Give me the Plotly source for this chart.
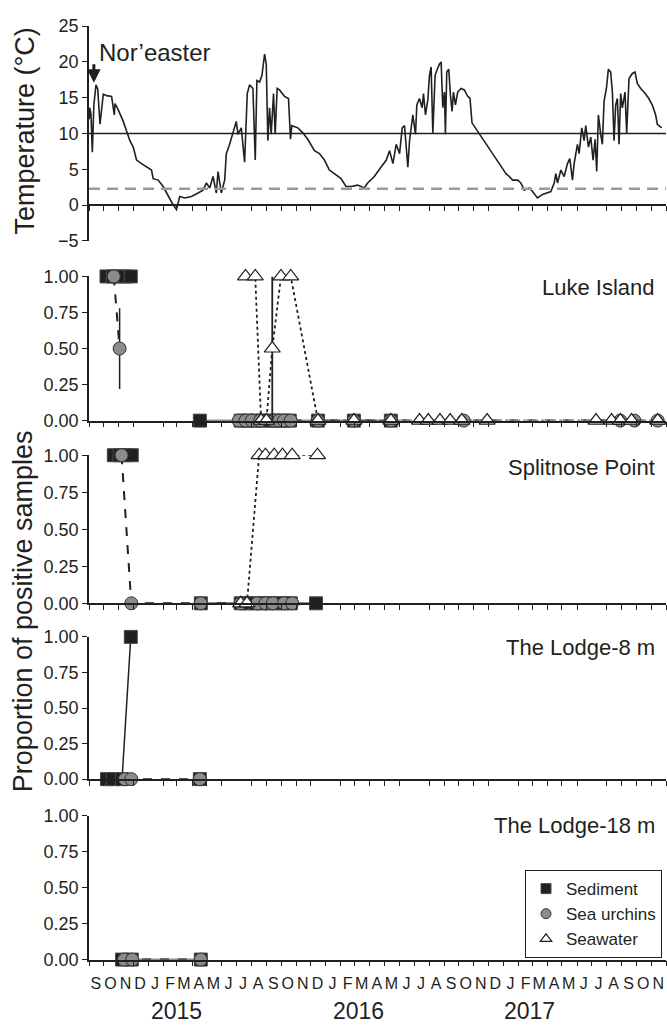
import pandas as pd
import plotly.graph_objects as go

# ---------------- DATA ----------------
START = "2014-09-01"
# water temperature, days since 1 Sep 2014 and degrees C
temp_day = [0.5, 1.4, 4.0, 6.8, 10.0, 14.4, 18.0, 22.6, 29.4, 36.3, 46.5, 52.0, 53.4, 60.2, 70.5, 77.3,
            84.1, 91.0, 97.8, 108.0, 118.3, 128.6, 132.0, 142.3, 152.5, 162.8, 171.0, 179.9,
            186.7, 197.0, 210.7, 224.4, 234.6, 241.5, 248.3, 255.1, 262.0, 265.4, 272.2, 279.1,
            282.5, 289.3, 296.2, 303.0, 306.4, 313.3, 320.1, 325.6, 330.4, 337.2, 342.0, 345.4,
            350.9, 355.7, 361.2, 364.6, 368.0, 371.4, 374.8, 379.6, 383.0, 387.1, 391.9, 402.2,
            410.4, 414.5, 417.2, 429.6, 439.8, 450.1, 463.8, 474.0, 484.3, 494.5, 504.8, 518.5,
            528.7, 539.0, 552.7, 566.4, 573.2, 586.9, 600.6,
            611.6, 618.3, 625.2, 632.0, 638.9, 644.3, 649.1, 655.9, 659.4, 666.2, 671.7, 674.4,
            679.9, 685.3, 688.1, 692.2, 697.0, 700.4, 703.8, 707.3, 712.0, 715.5, 720.9, 724.4,
            727.8, 731.2, 733.2, 736.0, 740.1, 743.5, 746.9, 749.7, 753.8, 758.5, 765.4, 772.2,
            779.1, 783.8, 787.9, 850.9, 857.7, 864.6, 871.4, 881.7, 888.5, 895.4, 905.6, 912.5,
            922.7, 933.0, 943.3, 950.1, 957.0, 960.4, 963.8, 970.7, 977.5, 984.3, 989.1, 994.6,
            998.0, 1004.8, 1008.3, 1013.7, 1018.5, 1021.9, 1027.4, 1032.2, 1037.0, 1041.1, 1044.5,
            1047.9, 1052.7, 1056.1, 1059.6, 1064.4, 1068.5, 1073.2, 1076.7, 1080.1, 1083.5, 1087.0,
            1090.4, 1093.8, 1097.2, 1102.7, 1106.1, 1110.9, 1117.8, 1123.2, 1128.0, 1134.9, 1141.7,
            1150.6, 1158.8, 1165.7, 1169.1, 1172.5, 1178.0]
temp_c = [12.0, 13.6, 12.8, 7.4, 14.0, 16.8, 16.2, 11.3, 15.5, 15.3, 15.2, 12.6, 14.2, 13.3, 11.7, 10.3,
          9.0, 8.1, 6.3, 5.8, 5.3, 4.9, 3.7, 3.5, 2.6, 1.2, 0.3, -0.6,
          1.2, 1.0, 1.2, 1.7, 2.1, 3.1, 2.4, 4.0, 1.7, 4.7, 1.7, 3.5,
          7.2, 8.5, 10.1, 11.7, 9.9, 10.8, 6.0, 15.6, 16.8, 16.3, 6.3, 17.4,
          17.2, 18.1, 21.1, 19.7, 9.0, 13.6, 9.9, 15.6, 9.9, 16.3, 16.1, 15.2,
          14.9, 9.2, 11.1, 10.8, 10.1, 9.2, 7.6, 7.2, 6.3, 4.9, 4.4, 3.7,
          2.6, 2.6, 2.8, 2.4, 3.1, 4.0, 5.3,
          6.3, 7.6, 5.8, 8.5, 7.2, 10.8, 11.1, 5.3, 9.0, 12.6, 9.9, 14.0,
          14.9, 13.6, 15.6, 12.6, 14.7, 18.1, 19.3, 10.1, 18.1, 18.8, 19.7, 20.0,
          13.6, 15.8, 9.9, 18.6, 19.0, 15.4, 13.1, 15.8, 14.0, 15.8, 16.3, 16.1,
          15.2, 14.9, 11.5, 5.1, 4.4, 4.0, 3.5, 3.5, 3.1, 2.1, 2.4, 1.9,
          1.0, 1.5, 1.7, 1.9, 3.1, 4.4, 3.1, 4.9, 4.0, 5.8, 6.5, 3.5,
          5.8, 8.5, 7.2, 10.8, 9.0, 11.1, 8.1, 9.5, 6.3, 9.2, 4.7,
          12.6, 9.9, 8.5, 14.5, 16.3, 19.0, 18.6, 15.8, 9.0, 14.0, 14.9,
          8.5, 15.6, 13.6, 15.8, 10.1, 17.7, 18.4, 18.6, 17.0, 16.3, 15.8,
          15.0, 14.0, 12.6, 11.3, 11.1, 10.8]
threshold_solid = 10.0
threshold_dashed = 2.3
noreaster_date = "2014-09-11"
noreaster_temp = 17.1

# Luke Island
luke_sed_dates = ["2014-10-07", "2014-10-20", "2014-11-01", "2014-11-14", "2014-11-26", None,
                  "2015-04-17", "2015-07-10", "2015-07-24", "2015-08-09", "2015-08-23", "2015-09-07",
                  "2015-09-21", "2015-10-05", "2015-10-19", "2015-12-16", "2016-02-28", "2016-05-14"]
luke_sed_vals = [1, 1, 1, 1, 1, None, 0, 0, 0, 0, 0, 0, 0, 0, 0, 0, 0, 0]
luke_urc_dates = ["2014-10-22", "2014-11-03", None, "2015-07-06", "2015-07-20", "2015-08-02",
                  "2015-08-19", "2015-09-17", "2015-09-27", "2015-10-07", "2015-10-21", "2015-12-16",
                  "2016-02-28", "2016-05-14", "2016-10-11", "2017-08-29", "2017-09-27", "2017-11-14"]
luke_urc_vals = [1, 0.5, None, 0, 0, 0, 0, 0, 0, 0, 0, 0, 0, 0, 0, 0, 0, 0]
luke_urc_err = [0, 0.28, 0, 0, 0, 0, 0, 0, 0, 0, 0, 0, 0, 0, 0, 0, 0, 0]
luke_sw_dates = ["2015-07-20", "2015-08-09", "2015-08-21", "2015-09-01", "2015-09-13", "2015-10-01",
                 "2015-10-21", "2015-12-16", "2016-02-28", "2016-05-14", "2016-07-12", "2016-07-30",
                 "2016-08-23", "2016-09-13", "2016-10-07", "2016-11-28", "2017-07-10", "2017-08-11",
                 "2017-08-29", "2017-09-21", "2017-11-14"]
luke_sw_vals = [1, 1, 0, 0, 0.5, 1, 1, 0, 0, 0, 0, 0, 0, 0, 0, 0, 0, 0, 0, 0, 0]
luke_sw_err = [0, 0, 0, 0, 0.5, 0, 0, 0, 0, 0, 0, 0, 0, 0, 0, 0, 0, 0, 0, 0, 0]

# Splitnose Point
split_sed_dates = ["2014-10-22", "2014-11-03", "2014-11-15", "2014-11-28", None, "2015-04-19",
                   "2015-07-10", "2015-07-24", "2015-08-09", "2015-08-23", "2015-09-07", "2015-09-21",
                   "2015-10-05", "2015-10-21", "2015-12-12"]
split_sed_vals = [1, 1, 1, 1, None, 0, 0, 0, 0, 0, 0, 0, 0, 0, 0]
split_urc_dates = ["2014-11-07", "2014-11-27", "2015-04-19", "2015-07-10", "2015-08-13", "2015-08-30",
                   "2015-09-14", "2015-10-07", "2015-10-24"]
split_urc_vals = [1, 0, 0, 0, 0, 0, 0, 0, 0]
split_sw_dates = ["2015-07-10", "2015-07-23", "2015-08-17", "2015-08-30", "2015-09-17", "2015-10-04",
                  "2015-10-24", "2015-12-15"]
split_sw_vals = [0, 0, 1, 1, 1, 1, 1, 1]

# The Lodge-8 m
lodge8_sed_dates = ["2014-10-08", "2014-10-20", "2014-11-08", "2014-11-26", None, "2015-04-17"]
lodge8_sed_vals = [0, 0, 0, 1, None, 0]
lodge8_urc_dates = ["2014-11-14", "2014-11-27", "2015-04-17"]
lodge8_urc_vals = [0, 0, 0]

# The Lodge-18 m
lodge18_sed_dates = ["2014-11-08", "2014-11-28", "2015-04-19"]
lodge18_sed_vals = [0, 0, 0]
lodge18_urc_dates = ["2014-11-12", "2014-11-29", "2015-04-19"]
lodge18_urc_vals = [0, 0, 0]

panel_names = ["Luke Island", "Splitnose Point", "The Lodge-8 m", "The Lodge-18 m"]
month_letters = ["S", "O", "N", "D", "J", "F", "M", "A", "M", "J", "J", "A", "S", "O", "N", "D",
                 "J", "F", "M", "A", "M", "J", "J", "A", "S", "O", "N", "D",
                 "J", "F", "M", "A", "M", "J", "J", "A", "S", "O", "N"]
year_labels = ["2015", "2016", "2017"]
year_label_dates = ["2015-02-27", "2016-03-09", "2017-02-23"]
legend_names = ["Sediment", "Sea urchins", "Seawater"]
x_range = ["2014-09-01", "2017-12-01"]

# ---------------- STYLE ----------------
FONT = "Liberation Sans, Arial, sans-serif"
INK = "#231f20"
W, H = 667, 1034
X0, X1 = 89, 666


def py(px):
    return 1 - px / H


sed_marker = dict(symbol="square", size=13, color=INK, line=dict(color="#4a4a4a", width=1))
urc_marker = dict(symbol="circle", size=13, color="#8c8c8c", line=dict(color="#333333", width=1))
sw_marker = dict(symbol="triangle-up", size=14, color="white", line=dict(color=INK, width=1.2))

temp_dates = pd.to_datetime(START) + pd.to_timedelta(temp_day, unit="D")

fig = go.Figure()

fig.add_trace(go.Scatter(x=temp_dates, y=temp_c, mode="lines", line=dict(color=INK, width=1.6),
                         xaxis="x", yaxis="y", showlegend=False, hoverinfo="skip"))


def add_sed(dates, vals, ax):
    fig.add_trace(go.Scatter(x=dates, y=vals, mode="lines+markers", marker=sed_marker,
                             line=dict(color=INK, width=1.5), connectgaps=False, cliponaxis=False,
                             xaxis="x" + ax, yaxis="y" + ax, showlegend=False))


def add_urc(dates, vals, ax, err=None):
    kw = {}
    if err is not None:
        kw["error_y"] = dict(type="data", array=err, symmetric=True, color=INK, thickness=1.5, width=0)
    fig.add_trace(go.Scatter(x=dates, y=vals, mode="lines+markers", marker=urc_marker,
                             line=dict(color=INK, width=2, dash="dash"), connectgaps=False,
                             cliponaxis=False, xaxis="x" + ax, yaxis="y" + ax, showlegend=False, **kw))


def add_sw(dates, vals, ax, err=None):
    kw = {}
    if err is not None:
        kw["error_y"] = dict(type="data", array=err, symmetric=True, color=INK, thickness=1.8, width=0)
    fig.add_trace(go.Scatter(x=dates, y=vals, mode="lines+markers", marker=sw_marker,
                             line=dict(color=INK, width=1.8, dash="dot"), connectgaps=False,
                             cliponaxis=False, xaxis="x" + ax, yaxis="y" + ax, showlegend=False, **kw))


add_sed(luke_sed_dates, luke_sed_vals, "2")
add_urc(luke_urc_dates, luke_urc_vals, "2", luke_urc_err)
add_sw(luke_sw_dates, luke_sw_vals, "2", luke_sw_err)

add_sed(split_sed_dates, split_sed_vals, "3")
add_urc(split_urc_dates, split_urc_vals, "3")
add_sw(split_sw_dates, split_sw_vals, "3")

add_sed(lodge8_sed_dates, lodge8_sed_vals, "4")
add_urc(lodge8_urc_dates, lodge8_urc_vals, "4")

add_sed(lodge18_sed_dates, lodge18_sed_vals, "5")
add_urc(lodge18_urc_dates, lodge18_urc_vals, "5")

# legend-only entries
for name, mk in zip(legend_names, [sed_marker, urc_marker, sw_marker]):
    m = dict(mk)
    m["size"] = 10
    fig.add_trace(go.Scatter(x=[None], y=[None], mode="markers", marker=m, name=name,
                             xaxis="x5", yaxis="y5", showlegend=True))

# ---------------- AXES ----------------
xdom = [X0 / W, X1 / W]
mid_month = pd.date_range("2014-09-01", periods=len(month_letters), freq="MS") + pd.Timedelta(days=14)

base_x = dict(type="date", range=x_range, domain=xdom, showgrid=False, zeroline=False,
              showline=True, linecolor=INK, linewidth=1.5, ticks="", showticklabels=False,
              minor=dict(ticks="outside", dtick="M1", tick0="2014-09-01", ticklen=5,
                         tickcolor=INK, tickwidth=1, showgrid=False))
base_y = dict(showgrid=False, zeroline=False, showline=True, linecolor=INK, linewidth=1.5,
              ticks="outside", ticklen=5, tickwidth=1.2, tickcolor=INK,
              tickfont=dict(family=FONT, size=18, color=INK))

panel_px = [(271.7, 418.7), (454.0, 605.0), (639.3, 784.3), (821.7, 968.3)]

layout = dict(
    width=W, height=H, autosize=False,
    margin=dict(l=0, r=0, t=0, b=0, pad=0),
    paper_bgcolor="white", plot_bgcolor="white",
    font=dict(family=FONT, color=INK),
    showlegend=True,
)
layout["xaxis"] = dict(base_x, anchor="free", position=py(199.0))
layout["yaxis"] = dict(base_y, domain=[py(235.5), py(16.5)], range=[-5, 25],
                       tickvals=[-5, 0, 5, 10, 15, 20, 25], anchor="x")
for i, (top, bot) in enumerate(panel_px):
    k = str(i + 2)
    xa = dict(base_x, anchor="y" + k, matches="x")
    if i == 3:
        xa.update(showticklabels=True, tickmode="array", tickvals=list(mid_month),
                  ticktext=month_letters, tickangle=0,
                  tickfont=dict(family=FONT, size=16, color=INK),
                  ticklabelstandoff=8)
    layout["xaxis" + k] = xa
    layout["yaxis" + k] = dict(base_y, domain=[py(bot), py(top)], range=[0, 1],
                               tickvals=[0, 0.25, 0.5, 0.75, 1.0], tickformat=".2f",
                               anchor="x" + k)

layout["legend"] = dict(x=662 / W, xanchor="right", y=py(877), yanchor="top",
                        bgcolor="white", bordercolor=INK, borderwidth=1,
                        font=dict(family=FONT, size=17, color=INK), itemwidth=30,
                        tracegroupgap=0)

fig.update_layout(**layout)

# reference lines in temperature panel
fig.add_shape(type="line", xref="x domain", yref="y", x0=0, x1=1, y0=threshold_solid, y1=threshold_solid,
              line=dict(color=INK, width=1.5))
fig.add_shape(type="line", xref="x domain", yref="y", x0=0, x1=1, y0=threshold_dashed, y1=threshold_dashed,
              line=dict(color="#9a9a9a", width=2.5, dash="11px,7px"))

# annotations
ann = []
ann.append(dict(text="Nor\u2019easter", xref="paper", yref="paper", x=97 / W, y=py(43),
                xanchor="left", yanchor="middle", showarrow=False,
                font=dict(family=FONT, size=24, color=INK)))
ann.append(dict(text="", xref="x", yref="y", x=noreaster_date, y=noreaster_temp, ax=0, ay=-20,
                showarrow=True, arrowhead=2, arrowsize=0.9, arrowwidth=3, arrowcolor=INK))
ann.append(dict(text="Temperature (\u00b0C)", xref="paper", yref="paper", x=25 / W, y=py(124),
                textangle=-90, showarrow=False, xanchor="center", yanchor="middle",
                font=dict(family=FONT, size=27, color=INK)))
ann.append(dict(text="Proportion of positive samples", xref="paper", yref="paper", x=23 / W,
                y=py(613), textangle=-90, showarrow=False, xanchor="center", yanchor="middle",
                font=dict(family=FONT, size=27, color=INK)))
title_px = [283, 467, 650, 832]
for name, ty in zip(panel_names, title_px):
    ann.append(dict(text=name, xref="paper", yref="paper", x=657 / W, y=py(ty), xanchor="right",
                    yanchor="middle", showarrow=False, font=dict(family=FONT, size=22, color=INK)))
for lab, d in zip(year_labels, year_label_dates):
    ann.append(dict(text=lab, xref="x5", yref="paper", x=d, y=py(1021), xanchor="center",
                    yanchor="middle", showarrow=False, font=dict(family=FONT, size=23, color=INK)))
fig.update_layout(annotations=ann)

fig.write_html("out.html", config={"displayModeBar": False},
               post_script="document.body.style.margin='0';")
